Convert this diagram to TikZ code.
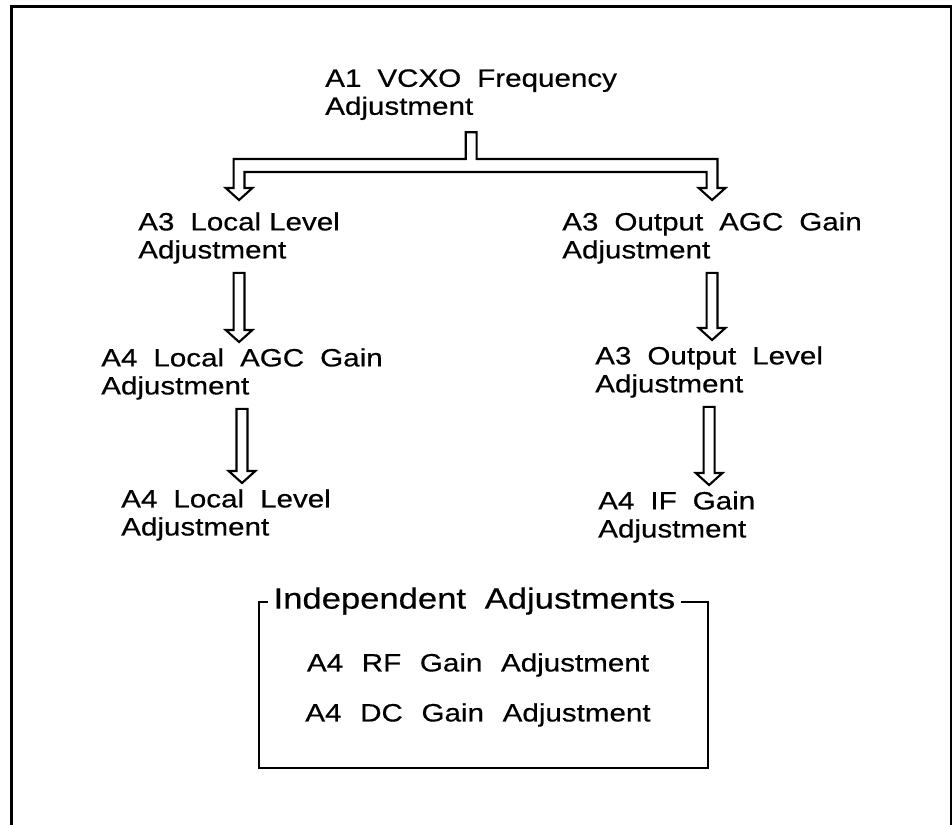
\documentclass[tikz,border=0pt]{standalone}
\usepackage{fontspec}
\setmainfont{Liberation Sans}[FakeStretch=1.18,FakeBold=0.5]
\usetikzlibrary{calc}
\newcommand\lblfont{\fontsize{18.8}{21}\selectfont\spaceskip=12pt\relax}
\newcommand\rowfont{\fontsize{18.8}{21}\selectfont\spaceskip=14pt\relax}
\newcommand\headfont{\fontsize{22}{24}\selectfont\spaceskip=14pt\relax}
\begin{document}
\begin{tikzpicture}[x=0.75pt,y=-0.75pt,line join=miter,
  lbl/.style={anchor=north west,inner sep=0pt,align=left,font=\lblfont},
  row/.style={anchor=north,inner sep=0pt,font=\rowfont},
  hollow/.style={draw,fill=white,line width=1.6pt},
  blockarrow/.style={hollow,to path={let \p1=(\tikztostart),\p2=(\tikztotarget) in
    (\x1-4.1pt,\y1-6.75pt) -- (\x1+4.1pt,\y1-6.75pt) -- (\x1+4.1pt,\y2+13.5pt)
    -- (\x1+10pt,\y2+13.5pt) -- (\x1,\y2+4.5pt) -- (\x1-10pt,\y2+13.5pt)
    -- (\x1-4.1pt,\y2+13.5pt) -- cycle}}]
  \useasboundingbox (0,0) rectangle (952,824);
  \draw[line width=2.2pt] (11.5,830) -- (11.5,6.5) -- (951,6.5) -- (951,830);
  \node[lbl] (vcxo) at (325,69) {A1 VCXO Frequency\\Adjustment};
  \node[lbl] (lvl) at (138,212) {A3 Local\hspace{6pt}Level\\Adjustment};
  \node[lbl] (out) at (562,212) {A3 Output AGC Gain\\Adjustment};
  \node[lbl] (agc) at (101,348) {A4 Local AGC Gain\\Adjustment};
  \node[lbl] (olv) at (595,346) {A3 Output Level\\Adjustment};
  \node[lbl] (llv) at (121,489) {A4 Local Level\\Adjustment};
  \node[lbl] (ifg) at (598,491) {A4 IF Gain\\Adjustment};
  \draw[hollow] let \p1=(vcxo.south),\p2=(lvl.north),\p3=(out.north) in
    (\x1-4.1pt,\y1-9pt) -- (\x1+4.1pt,\y1-9pt) -- (\x1+4.1pt,\y2+39.75pt)
    -- (\x3+4.1pt,\y2+39.75pt) -- (\x3+4.1pt,\y2+18pt) -- (\x3+10pt,\y2+18pt)
    -- (\x3,\y2+9pt) -- (\x3-10pt,\y2+18pt) -- (\x3-4.1pt,\y2+18pt)
    -- (\x3-4.1pt,\y2+30pt) -- (\x2+4.1pt,\y2+30pt) -- (\x2+4.1pt,\y2+18pt)
    -- (\x2+10pt,\y2+18pt) -- (\x2,\y2+9pt) -- (\x2-10pt,\y2+18pt)
    -- (\x2-4.1pt,\y2+18pt) -- (\x2-4.1pt,\y2+39.75pt) -- (\x1-4.1pt,\y2+39.75pt) -- cycle;
  \draw[blockarrow] (lvl.south) to (lvl.south |- agc.north);
  \draw[blockarrow] (agc.south) to (agc.south |- llv.north);
  \draw[blockarrow] (out.south) to (out.south |- olv.north);
  \draw[blockarrow] (olv.south) to (olv.south |- ifg.north);
  \draw[line width=1.8pt] (259,602) rectangle (708,768);
  \node[anchor=west,fill=white,inner xsep=4pt,inner ysep=0pt,font=\headfont]
    (indep) at (268,601) {Independent Adjustments};
  \node[row] (rf) at (478,653) {A4 RF Gain Adjustment};
  \node[row] (dc) at (478,703) {A4 DC Gain Adjustment};
\end{tikzpicture}
\end{document}
